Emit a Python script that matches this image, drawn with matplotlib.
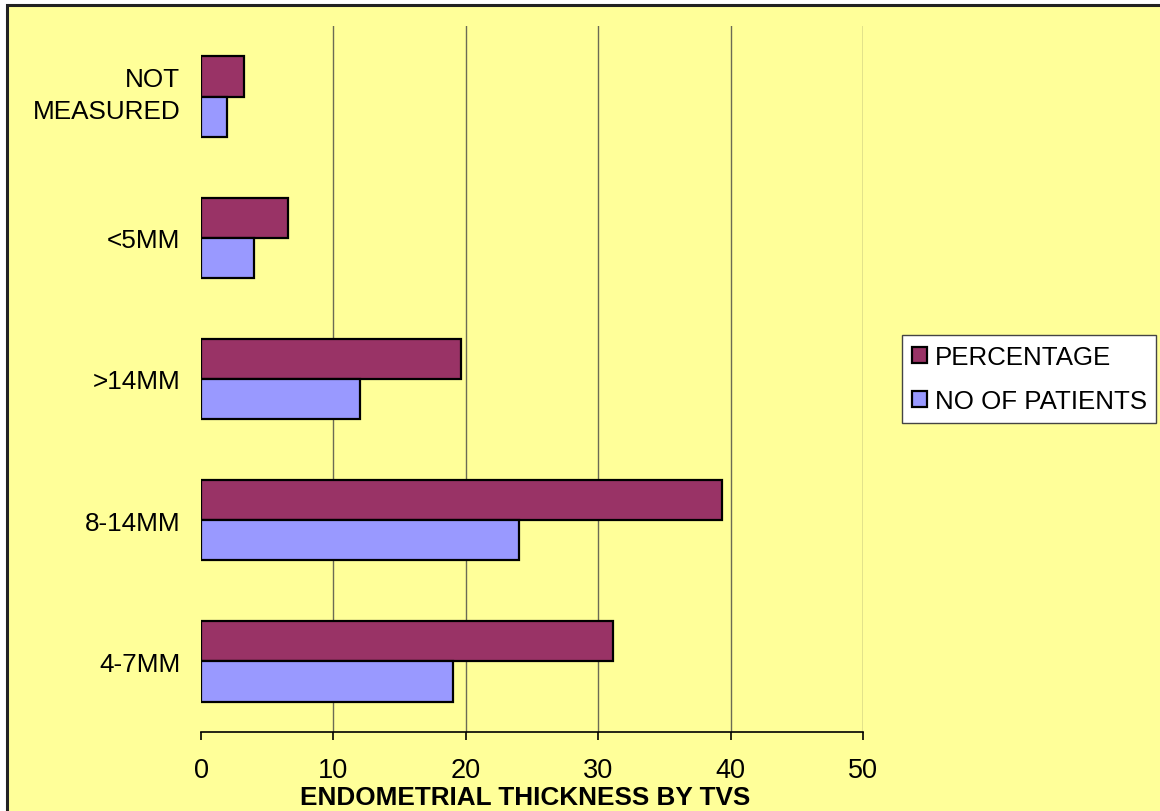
import matplotlib
matplotlib.use("Agg")
import matplotlib.pyplot as plt
from matplotlib.patches import Rectangle
from matplotlib.transforms import ScaledTranslation

# Endometrial thickness categories (bottom to top)
categories = ["4-7MM", "8-14MM", ">14MM", "<5MM", "NOT\nMEASURED"]
patients = [19, 24, 12, 4, 2]
percentage = [31.15, 39.34, 19.67, 6.56, 3.28]
xticks = [0, 10, 20, 30, 40, 50]

BG = "#FFFF99"
MAROON = "#993366"
PERIWINKLE = "#9999FF"
SANS = ["Liberation Sans", "Arial", "DejaVu Sans"]
NARROW = ["Liberation Sans Narrow", "Liberation Sans", "DejaVu Sans"]

fig = plt.figure(figsize=(11.6, 8.12), dpi=100, facecolor="white")

# chart area frame, kept behind the axes
frame = Rectangle((7 / 1160, -0.01), 1.0, 1 - 6 / 812 + 0.01,
                  transform=fig.transFigure, facecolor=BG,
                  edgecolor="#222222", linewidth=2.2, zorder=-10)
fig.add_artist(frame)

ax = fig.add_axes([201 / 1160, 79 / 812, 662 / 1160, 706 / 812])
ax.set_zorder(1)
ax.patch.set_alpha(0)

h = 0.285
ypos = list(range(len(categories)))
ax.barh([y + h / 2 for y in ypos], percentage, height=h, color=MAROON,
        edgecolor="black", linewidth=1.6, label="PERCENTAGE", zorder=3)
ax.barh([y - h / 2 for y in ypos], patients, height=h, color=PERIWINKLE,
        edgecolor="black", linewidth=1.6, label="NO OF PATIENTS", zorder=3)

ax.set_xlim(0, 50)
ax.set_ylim(-0.5, len(categories) - 0.5)

# vertical gridlines (none at zero)
for x in xticks[1:]:
    ax.axvline(x, color="#6b6b55", linewidth=1.0, zorder=1)

for side in ("top", "right", "left"):
    ax.spines[side].set_visible(False)
ax.spines["bottom"].set_color("black")
ax.spines["bottom"].set_linewidth(1.2)

ax.set_xticks(xticks)
ax.set_xticklabels([str(t) for t in xticks], family=NARROW, fontsize=19.5)
ax.tick_params(axis="x", direction="out", length=6, width=1.2, pad=12,
               color="black")
ax.set_yticks(ypos)
ax.set_yticklabels(categories, family=SANS, fontsize=18.8, linespacing=1.4)
ax.tick_params(axis="y", length=0, pad=15)
# lift the two-line label slightly
top_label = ax.yaxis.get_major_ticks()[-1].label1
top_label.set_transform(top_label.get_transform()
                        + ScaledTranslation(0, 0.08, fig.dpi_scale_trans))

ax.set_xlabel("ENDOMETRIAL THICKNESS BY TVS", family=NARROW,
              fontweight="bold", fontsize=18.8, labelpad=-2)
ax.xaxis.set_label_coords(0.489, -0.075)

leg = ax.legend(loc="upper left", bbox_to_anchor=(902 / 1160, 1 - 336 / 812),
                bbox_transform=fig.transFigure, frameon=True, fancybox=False,
                prop={"family": SANS, "size": 18.6}, handlelength=0.58,
                handleheight=0.58, handletextpad=0.3, labelspacing=0.78,
                borderpad=0.38, borderaxespad=0)
leg.get_frame().set_edgecolor("#444444")
leg.get_frame().set_linewidth(1.0)
leg.get_frame().set_facecolor("white")
leg.get_frame().set_alpha(1)

fig.savefig("out.png", dpi=100, facecolor="white")
